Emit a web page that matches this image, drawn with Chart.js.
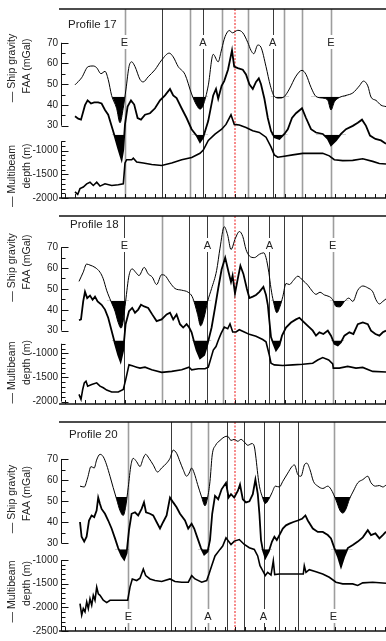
<!DOCTYPE html>
<html>
<head>
<meta charset="utf-8">
<script src="https://cdn.jsdelivr.net/npm/chart.js@4.4.1/dist/chart.umd.min.js"></script>
<style>
  html, body { margin: 0; padding: 0; background: #fff; }
  body { width: 386px; height: 641px; position: relative; overflow: hidden; }
  canvas { position: absolute; left: 0; }
</style>
</head>
<body>
<canvas id="p17" width="386" height="207" style="top:0"></canvas>
<canvas id="p18" width="386" height="206" style="top:207px"></canvas>
<canvas id="p20" width="386" height="228" style="top:413px"></canvas>
<script>
// distance along profile in km (0 = axis, red dotted line)

// Profile 17
const p17FaaKm = [-80,-76.7,-73.4,-70.9,-69.2,-67,-65,-63.4,-61.7,-59.2,-57.5,-55.9,-54.5,-53,-51.7,-50,-47.5,-45.9,-43.4,-40,-36.7,-32.9,-30.9,-28.4,-25,-21.7,-19.2,-17.5,-15.9,-13.4,-10.9,-8.4,-7,-5.4,-4.5,-2.9,-1.2,1.4,3.9,6.4,8,9.4,11.4,13,15.5,17.7,19.7,22.2,24.7,27.2,30.5,33.5,35.5,38,40.5,43.9,46.4,48,49.7,52.2,55.5,58.9,62.2,64.2,66.4,68,70.5,73,75.5];
const p17Faa = [49.7,53.1,58.5,58.8,58.0,55.1,56.2,52.3,44.6,38.4,31.4,38.4,47.7,58.5,60.8,58.5,52.3,51.1,53.6,57.0,61.6,65.0,63.2,58.5,54.7,45.3,39.9,38.0,39.9,49.2,64.4,60.8,65.6,71.7,74.0,75.9,74.8,76.0,74.8,70.1,66.3,64.7,68.9,67.8,58.5,49.2,44.1,43.3,44.1,47.7,53.9,56.7,54.7,48.5,44.1,43.3,42.2,37.6,41.5,43.6,44.6,45.8,49.2,51.5,49.2,43.8,42.2,39.9,39.2];
const p17MidKm = [-80,-78.4,-77,-75,-73.7,-72,-70.4,-68.4,-66.7,-65,-63.4,-61.7,-60,-58.4,-56.7,-55.9,-55,-53.7,-52,-50.4,-48.7,-47,-45,-42.5,-40,-37.5,-35,-32.5,-30.9,-29.2,-26.7,-24.2,-21.7,-19.2,-17.5,-15.9,-13.4,-10.9,-9.5,-8.4,-6.7,-5.4,-3.5,-1.5,-0.4,1.4,3.9,5.5,7.2,8.9,10.5,11.9,13,14.7,16.4,18,19.7,22.2,24.7,26.4,28.5,30.5,33.5,35.5,38,40.5,43.9,46.4,48,50.5,53,55.5,58.9,61.4,63.5,65.5,67.5,70.2,73,75.5];
const p17Mid = [34.5,33.4,32.9,39.9,42.2,40.7,41.2,41.2,40.7,37.6,35.3,29.9,24.4,19.0,13.6,18.2,30.6,39.2,42.2,40.2,33.7,32.9,35.3,36.0,38.4,42.2,44.6,47.7,44.6,43.3,38.4,33.7,28.3,25.2,22.1,24.4,32.2,44.6,47.7,43.0,49.2,51.5,57.0,66.3,58.5,57.8,57.0,54.7,50.0,47.7,51.1,52.8,50.0,43.0,33.7,27.5,24.4,23.6,26.0,28.3,33.7,36.0,38.4,33.7,28.3,26.7,26.0,23.6,20.6,22.9,26.0,28.3,29.9,31.4,32.9,29.9,25.2,23.6,22.9,21.3];
const p17DepthKm = [-80,-78.65,-77.5,-75.85,-74.15,-72.5,-70.85,-69.15,-67.5,-65,-61.65,-58.35,-55.85,-55,-54.15,-51.65,-50.85,-49.15,-45.85,-41.65,-36.65,-31.65,-26.65,-21.65,-17.5,-15.85,-13.35,-10,-6.65,-4.5,-2,-0.35,2.15,5.5,8.85,12.15,15.5,18,19.65,21.35,23.85,28.85,33.85,38.85,43.85,47.15,49.65,53.85,58.85,63.85,68.85,72.15,75.5];
const p17Depth = [-1871,-1925,-1802,-1769,-1700,-1667,-1735,-1667,-1749,-1700,-1735,-1720,-1700,-1259,-1190,-1190,-1157,-1239,-1259,-1292,-1312,-1259,-1190,-1143,-1055,-986,-782,-647,-545,-443,-239,-443,-455,-510,-578,-612,-714,-918,-1088,-1137,-1122,-1088,-1055,-1055,-1055,-1108,-1190,-1210,-1204,-1169,-1225,-1271,-1280];
const p17FaaTroughs = [[-62.5,-54.5],[-23.5,-13],[16.5,28.5],[38,57]];
const p17MidTroughs = [[-62,-54.5],[-22,-13],[17,27],[39,56]];
const p17Lines = [-55.25,-36.35,-22.5,-16,-6.5,0,6.75,18.85,24.5,33.35,48];
const p17Kinds = ['g','k','g','k','g','r','g','k','g','g','g'];

// Profile 18
const p18FaaKm = [-78,-75.9,-74.2,-72.5,-70,-67.5,-65.9,-64.2,-62,-60,-58.4,-57,-55.9,-54.7,-53,-51.4,-49.7,-48,-45.4,-43.4,-41.4,-39.2,-36.7,-35,-32.5,-30,-26.7,-23.4,-21.4,-20,-18.7,-17.2,-15.5,-13.7,-11.7,-9.2,-7.5,-5.4,-3.7,-2,0.2,2.2,3.9,5.5,7.2,9.7,12.2,14.4,15.5,16.9,18,19.2,20.9,22.5,23.9,25.5,27.2,29.2,31.4,33.9,36.4,38.9,40.5,42.5,44.7,47.2,48.9,50.5,52.5,54.7,56.9,58.9,61.4,63.9,66.4,68.9,70.5,72.2,73.9,75.5];
const p18Faa = [53.6,58.0,61.9,61.4,60.3,58.0,54.9,49.4,44.0,39.3,33.9,31.2,34.6,44.0,56.4,59.6,58.0,56.4,60.3,57.2,55.7,52.1,56.8,56.4,53.0,50.2,49.4,48.4,46.3,42.4,37.8,32.3,36.2,44.0,50.2,58.8,69.5,79.8,75.9,68.9,74.3,77.5,75.1,68.9,65.8,65.0,66.6,67.3,65.0,58.0,50.2,44.0,38.6,41.6,46.3,52.6,52.1,54.1,56.1,54.1,51.8,48.6,47.4,48.4,47.1,46.3,44.8,41.6,41.4,44.0,45.6,44.0,49.4,51.4,50.5,48.6,44.8,42.8,44.0,45.2];
const p18MidKm = [-78,-77,-75.9,-75,-73.9,-72.5,-71.2,-70,-68.7,-66.7,-65,-63.4,-61.7,-60,-58.4,-57.2,-55.9,-54.7,-53,-51.4,-50,-48.4,-47,-45.4,-43.4,-41.4,-39.2,-36.7,-34.2,-32.5,-30.9,-29.2,-27.5,-25.9,-24.2,-22.9,-21.7,-20.4,-19.2,-17.5,-15.4,-13.7,-11.7,-10,-8.4,-6.7,-4.9,-3.2,-2,-1.2,0,1.4,2.7,4.2,5.9,7.2,8.9,10.5,12.2,14.2,15.5,16.4,17.2,18,19.2,20.5,22.2,23.5,25.5,28,30.5,32.2,33.9,36.4,38.9,40.5,42.2,44.2,46.4,48,49.7,51.4,53,54.7,57.2,59.2,61.4,63.9,66.4,68,70.2,72.2,73.9,75.5];
const p18Mid = [35.0,35.4,44.0,48.6,45.6,46.8,44.8,46.3,44.0,42.4,40.1,36.2,30.0,23.7,18.3,15.2,20.6,33.1,39.3,40.9,38.6,40.1,42.4,41.6,40.9,37.8,34.6,35.4,37.8,38.6,35.4,37.8,33.1,31.5,33.1,31.5,29.2,24.5,20.6,16.7,18.3,23.7,31.5,40.9,50.2,59.3,65.0,58.0,53.3,56.4,47.9,54.9,61.1,57.2,50.2,45.6,46.3,47.1,48.6,51.0,47.1,42.4,34.6,26.9,23.7,20.6,23.0,27.6,31.5,33.9,35.4,36.2,34.6,32.3,30.0,27.6,29.2,28.4,30.0,27.6,23.7,22.9,24.5,27.6,29.2,28.4,33.1,33.9,33.1,30.0,28.4,27.6,29.2,30.0];
const p18DepthKm = [-78,-77,-76.15,-75.35,-74.5,-73.65,-71.65,-69.15,-67.5,-65.85,-64.15,-61.65,-58.35,-55.85,-54.65,-53,-51.35,-49.15,-47.5,-45,-41.65,-36.65,-31.65,-26.65,-23,-21.65,-18.35,-15,-13.35,-10.85,-9.5,-8.35,-7,-5.35,-3.65,-2.5,-1.15,0.5,2.15,4.65,7.15,10.5,13.85,15.5,17.15,18,19.65,23.85,28.85,33.85,38.85,41.35,43.85,46.85,48.85,49.15,52.15,56.35,60.5,63.85,68.85,75.5];
const p18Depth = [-1851,-1953,-1749,-1612,-1578,-1680,-1647,-1612,-1680,-1714,-1761,-1802,-1802,-1749,-1545,-1239,-1259,-1286,-1306,-1286,-1341,-1394,-1374,-1341,-1286,-1341,-1320,-1320,-1286,-933,-858,-729,-592,-455,-490,-388,-557,-557,-510,-557,-606,-647,-714,-761,-1035,-1204,-1239,-1251,-1239,-1225,-1204,-1137,-1088,-1137,-1218,-1306,-1306,-1271,-1306,-1292,-1374,-1388];
const p18FaaTroughs = [[-65,-52.5],[-22,-11],[17.5,24.5],[47,57.5]];
const p18MidTroughs = [[-62.5,-54],[-22,-11.5],[17.5,24],[47.5,56]];
const p18Lines = [-55.35,-36.35,-22.85,-13.85,-6.15,0,6.35,17.15,24.65,33.35,48.85];
const p18Kinds = ['k','g','k','k','g','r','k','k','k','k','g'];

// Profile 20
const p20FaaKm = [-77.5,-75.4,-73.7,-72,-70.4,-69.2,-67.5,-65.9,-64.2,-62.5,-60.9,-59.2,-57.5,-55.9,-54.7,-53.4,-52,-50.9,-49.2,-47.5,-45.9,-44.7,-43,-40.9,-38.7,-36.7,-34.2,-32.5,-30.9,-29.2,-27.5,-25.9,-24.2,-22.9,-21.7,-20.4,-18.7,-16.7,-15,-13.7,-12.5,-11.4,-9.7,-7.5,-5.4,-3.7,-2,-0.4,1.4,3,4.7,6.4,8.5,9.7,10.5,11.4,12.2,13.5,15.2,16.9,18.5,20.2,22.2,23.9,26.4,28.5,29.7,31.4,33,34.7,35.9,37.5,39.2,41.4,43.9,46.4,48,50.5,52.5,53.9,55.5,57.2,59.2,61.4,63.9,66.4,68,70.2,72.2,73.9,75.5];
const p20Faa = [57.1,56.7,61.0,66.4,65.7,69.5,72.2,71.1,67.2,61.8,56.4,50.9,45.5,43.2,47.1,56.4,67.2,70.3,68.7,66.4,70.3,72.2,70.3,67.2,63.8,65.7,68.0,70.3,74.2,72.7,68.7,64.9,61.8,63.3,65.7,63.3,57.9,52.0,47.8,51.7,59.4,71.9,76.5,78.8,80.4,80.8,78.8,79.3,78.4,79.3,78.0,76.5,77.3,75.7,70.3,62.6,57.1,52.5,48.9,50.9,54.0,57.1,56.7,59.4,63.3,66.4,67.2,62.6,61.8,67.2,68.0,64.9,59.4,57.1,56.0,57.1,55.6,50.5,45.5,44.3,46.3,50.9,54.8,58.7,60.2,61.8,58.7,57.1,57.4,56.7,57.6];
const p20MidKm = [-77.5,-76.7,-75.4,-74.2,-73,-71.7,-70.4,-69.2,-68.4,-67.5,-66.7,-65,-63.4,-61.7,-60,-58.4,-56.7,-55.4,-54.2,-53,-51.7,-50,-48.4,-46.7,-45.5,-44.5,-42.5,-40.9,-39.2,-37.5,-35.9,-34.2,-32.5,-30.9,-29.2,-27.5,-25,-23.4,-21.7,-20.4,-18.7,-17,-15.4,-13.7,-12.5,-11.4,-10,-8.4,-6.7,-4.5,-3.2,-2,-0.4,1.4,2.5,3.9,5.5,7.2,8.9,10.2,11.4,12.2,13,13.9,15.2,16.9,18.5,19.7,20.9,22.2,23.9,25.5,27.2,29.2,31.4,33.5,35.2,36.4,38.9,41.4,43.9,46.4,48,49.7,51.4,53,54.7,56.4,58.9,61.4,63.9,66.4,68,70.2,72.2,73.9,75.5];
const p20Mid = [40.1,33.1,30.8,33.1,40.8,43.2,42.4,45.5,51.7,48.6,46.3,44.0,40.8,37.0,32.3,27.7,24.1,22.3,25.3,36.2,44.0,44.7,43.2,46.3,49.4,44.7,44.0,43.2,40.1,37.0,40.1,43.2,51.7,49.4,47.1,44.0,40.8,37.0,39.3,37.0,32.3,27.7,24.6,26.1,31.5,44.0,52.5,50.9,55.6,58.7,51.7,53.3,51.7,54.8,57.9,50.9,49.4,49.9,53.3,60.2,53.3,44.0,31.5,26.9,23.0,26.1,30.8,33.1,31.5,33.9,37.0,38.5,39.3,40.1,40.8,41.6,43.2,40.8,37.0,35.4,35.4,33.9,32.3,27.7,23.8,18.8,23.8,27.7,29.2,30.8,32.8,36.2,33.9,34.7,32.3,33.9,35.5];
const p20DepthKm = [-77.5,-76.65,-75.85,-75,-74.15,-73.35,-72.5,-71.65,-70.85,-70,-69.15,-68.35,-67.5,-65.85,-64.15,-62.5,-58.35,-53.65,-52.5,-51.35,-49.15,-47.5,-45.85,-44.65,-42.5,-40,-36.65,-32.5,-30,-26.65,-23.35,-21.65,-20,-16.65,-14.15,-13,-11.65,-10,-7.5,-6.15,-4.5,-2,-0.35,2.15,4.65,7.15,9.65,11.35,12.5,13.85,15.15,16.35,18,19.15,19.85,22.15,28.85,34.15,34.65,35.5,37.15,40.5,43.85,47.15,50.5,53.85,58.85,61.35,63.85,68.85,75.5];
const p20Depth = [-1921,-2162,-2025,-2094,-1885,-2025,-1817,-1954,-1746,-1850,-1573,-1712,-1746,-1850,-1900,-1850,-1850,-1850,-1573,-1400,-1433,-1385,-1192,-1329,-1400,-1433,-1454,-1400,-1454,-1469,-1469,-1329,-1400,-1469,-1433,-1296,-1121,-913,-775,-704,-531,-671,-600,-567,-671,-740,-775,-913,-1121,-1225,-1329,-1260,-1317,-1017,-1308,-1296,-1296,-1296,-1121,-1260,-1204,-1246,-1296,-1365,-1469,-1504,-1504,-1537,-1483,-1469,-1490];
const p20FaaTroughs = [[-61.5,-53],[-19,-12],[12,19],[48,59.5]];
const p20MidTroughs = [[-60.5,-52.5],[-19,-12],[12.5,19],[47.5,59.5]];
const p20Lines = [-53.35,-32.25,-22.15,-13.5,-4.15,0,4.25,14.25,22.15,31.25,49.25];
const p20Kinds = ['g','k','g','g','k','r','k','k','k','k','g'];

const faaTicks = [30, 40, 50, 60, 70];
const markIdx = [0, 3, 7, 10];
const markText = ['E', 'A', 'A', 'E'];

const FONT = "'Liberation Sans', Arial, Helvetica, sans-serif";
const KM_MIN = -87, KM_MAX = 75.5;

const panels = [
  { id: 'p17', title: 'Profile 17', faaKm: p17FaaKm, faa: p17Faa, midKm: p17MidKm, mid: p17Mid,
    depthKm: p17DepthKm, depth: p17Depth, faaLevel: 44, midLevel: 25.6,
    faaTroughs: p17FaaTroughs, midTroughs: p17MidTroughs, lines: p17Lines, kinds: p17Kinds,
    depthTicks: [-2000, -1500, -1000], depthAxis: [-2000, -800],
    pad: { top: 7, bottom: 4 }, gRange: [26.28, 86.28], dRange: [-2000, -633], weights: [129, 67],
    titleXY: [68, 25], markY: 42, gTitleY: [68, 66], dTitleY: [176, 166] },
  { id: 'p18', title: 'Profile 18', faaKm: p18FaaKm, faa: p18Faa, midKm: p18MidKm, mid: p18Mid,
    depthKm: p18DepthKm, depth: p18Depth, faaLevel: 44.3, midLevel: 25.3,
    faaTroughs: p18FaaTroughs, midTroughs: p18MidTroughs, lines: p18Lines, kinds: p18Kinds,
    depthTicks: [-2000, -1500, -1000], depthAxis: [-2000, -800],
    pad: { top: 7, bottom: 6 }, gRange: [25.66, 84.94], dRange: [-2050.5, -717], weights: [127, 66],
    titleXY: [70, 18], markY: 38, gTitleY: [60.5, 55], dTitleY: [165.5, 155.5] },
  { id: 'p20', title: 'Profile 20', faaKm: p20FaaKm, faa: p20Faa, midKm: p20MidKm, mid: p20Mid,
    depthKm: p20DepthKm, depth: p20Depth, faaLevel: 52, midLevel: 27.2,
    faaTroughs: p20FaaTroughs, midTroughs: p20MidTroughs, lines: p20Lines, kinds: p20Kinds,
    depthTicks: [-2500, -2000, -1500, -1000], depthAxis: [-2500, -1000],
    pad: { top: 6, bottom: 10 }, gRange: [25.79, 87.54], dRange: [-2500, -833], weights: [132, 80],
    titleXY: [69, 22], markY: 203, gTitleY: [86, 80.5], dTitleY: [178.5, 170.5] }
];

function pts(xs, ys) { return xs.map((x, i) => ({ x: x, y: ys[i] })); }
function cut(xs, ys, w) { return pts(xs, ys).filter(p => p.x >= w[0] && p.x <= w[1]); }

function seg(ctx, x1, y1, x2, y2) {
  ctx.beginPath(); ctx.moveTo(x1, y1); ctx.lineTo(x2, y2); ctx.stroke();
}
function vtext(ctx, s, x, y) {
  ctx.save(); ctx.translate(x, y); ctx.rotate(-Math.PI / 2); ctx.fillText(s, 0, 0); ctx.restore();
}

function decor(p) {
  return {
    id: 'decor',
    beforeDatasetsDraw(chart) {
      const { ctx, chartArea: a, scales: { x } } = chart;
      ctx.save();
      p.lines.forEach((km, i) => {
        const k = p.kinds[i];
        const px = Math.round(x.getPixelForValue(km)) + (k === 'r' ? 0 : 0.5);
        ctx.setLineDash(k === 'r' ? [2, 1.5] : []);
        ctx.strokeStyle = k === 'r' ? '#f25a5a' : k === 'g' ? '#9d9d9d' : '#3a3a3a';
        ctx.lineWidth = k === 'g' ? 1.6 : k === 'r' ? 1.4 : 1;
        seg(ctx, px, a.top, px, a.bottom);
      });
      ctx.setLineDash([]);
      ctx.font = '11px ' + FONT;
      ctx.textAlign = 'center';
      ctx.textBaseline = 'middle';
      markIdx.forEach((li, j) => {
        const px = x.getPixelForValue(p.lines[li]);
        const w = ctx.measureText(markText[j]).width + 4;
        ctx.fillStyle = '#fff';
        ctx.fillRect(px - w / 2, p.markY - 7, w, 14);
        ctx.fillStyle = '#222';
        ctx.fillText(markText[j], px, p.markY + 0.5);
      });
      ctx.restore();
    },
    afterDatasetsDraw(chart) {
      const { ctx, chartArea: a, scales: { x, g, d } } = chart;
      ctx.save();
      ctx.strokeStyle = '#111';
      ctx.lineWidth = 1;
      const L = a.left + 0.5;
      // gravity axis
      seg(ctx, L, g.getPixelForValue(70), L, g.getPixelForValue(30));
      for (let v = 30; v <= 70; v += 5) {
        const y = Math.round(g.getPixelForValue(v)) + 0.5;
        seg(ctx, L, y, L + (v % 10 ? 4 : 7), y);
      }
      // depth axis
      seg(ctx, L, d.getPixelForValue(p.depthAxis[1]), L, d.getPixelForValue(p.depthAxis[0]));
      for (let v = p.depthAxis[0]; v <= p.depthAxis[1]; v += 100) {
        const y = Math.round(d.getPixelForValue(v)) + 0.5;
        seg(ctx, L, y, L + (v % 500 ? 4 : 7), y);
      }
      // distance axis and top frame
      ctx.lineWidth = 1.5;
      seg(ctx, a.left - 2, a.bottom, a.right, a.bottom);
      seg(ctx, a.left - 2, a.top, a.right, a.top);
      ctx.lineWidth = 1;
      for (let km = -85; km <= 75; km += 5) {
        const px = Math.round(x.getPixelForValue(km)) + 0.5;
        seg(ctx, px, a.bottom, px, a.bottom - 4);
      }
      // texts
      ctx.fillStyle = '#222';
      ctx.textBaseline = 'middle';
      ctx.textAlign = 'left';
      ctx.font = '11.5px ' + FONT;
      ctx.fillText(p.title, p.titleXY[0], p.titleXY[1]);
      ctx.textAlign = 'center';
      ctx.font = '10.5px ' + FONT;
      vtext(ctx, '\u2014 Ship gravity', 12.5, p.gTitleY[0]);
      vtext(ctx, 'FAA (mGal)', 27, p.gTitleY[1]);
      vtext(ctx, '\u2014 Multibeam', 12.5, p.dTitleY[0]);
      vtext(ctx, 'depth (m)', 27, p.dTitleY[1]);
      ctx.restore();
    }
  };
}

function makePanel(p) {
  const datasets = [
    { data: pts(p.faaKm, p.faa), yAxisID: 'g', borderColor: '#000', borderWidth: 1,
      cubicInterpolationMode: 'monotone', clip: false },
    { data: pts(p.midKm, p.mid), yAxisID: 'g', borderColor: '#000', borderWidth: 1.8, clip: false },
    { data: pts(p.depthKm, p.depth), yAxisID: 'd', borderColor: '#000', borderWidth: 1.6, clip: false }
  ];
  p.faaTroughs.forEach(w => datasets.push({
    data: cut(p.faaKm, p.faa, w), yAxisID: 'g', borderWidth: 0, borderColor: 'rgba(0,0,0,0)',
    cubicInterpolationMode: 'monotone', clip: false,
    fill: { target: { value: p.faaLevel }, above: 'rgba(0,0,0,0)', below: '#000' }
  }));
  p.midTroughs.forEach(w => datasets.push({
    data: cut(p.midKm, p.mid, w), yAxisID: 'g', borderWidth: 0, borderColor: 'rgba(0,0,0,0)',
    clip: false,
    fill: { target: { value: p.midLevel }, above: 'rgba(0,0,0,0)', below: '#000' }
  }));

  const yTicks = { autoSkip: false, padding: 3, color: '#222', font: { family: FONT, size: 10 },
                   callback: v => String(v) };

  new Chart(document.getElementById(p.id), {
    type: 'line',
    data: { datasets },
    options: {
      responsive: false,
      animation: false,
      events: [],
      layout: { padding: { top: p.pad.top, bottom: p.pad.bottom, left: 0, right: 0 } },
      elements: { point: { radius: 0 }, line: { tension: 0 } },
      plugins: { legend: { display: false }, tooltip: { enabled: false } },
      scales: {
        x: { type: 'linear', min: KM_MIN, max: KM_MAX, display: false },
        g: { type: 'linear', position: 'left', stack: 'left', stackWeight: p.weights[0], weight: 1,
             min: p.gRange[0], max: p.gRange[1], bounds: 'data',
             afterBuildTicks: s => { s.ticks = faaTicks.map(v => ({ value: v })); },
             afterFit: s => { s.width = 61; },
             grid: { display: false, drawTicks: false }, border: { display: false },
             ticks: yTicks, title: { display: false } },
        d: { type: 'linear', position: 'left', stack: 'left', stackWeight: p.weights[1], weight: 0,
             min: p.dRange[0], max: p.dRange[1], bounds: 'data',
             afterBuildTicks: s => { s.ticks = p.depthTicks.map(v => ({ value: v })); },
             afterFit: s => { s.width = 61; },
             grid: { display: false, drawTicks: false }, border: { display: false },
             ticks: yTicks, title: { display: false } }
      }
    },
    plugins: [decor(p)]
  });
}

panels.forEach(makePanel);
</script>
</body>
</html>
